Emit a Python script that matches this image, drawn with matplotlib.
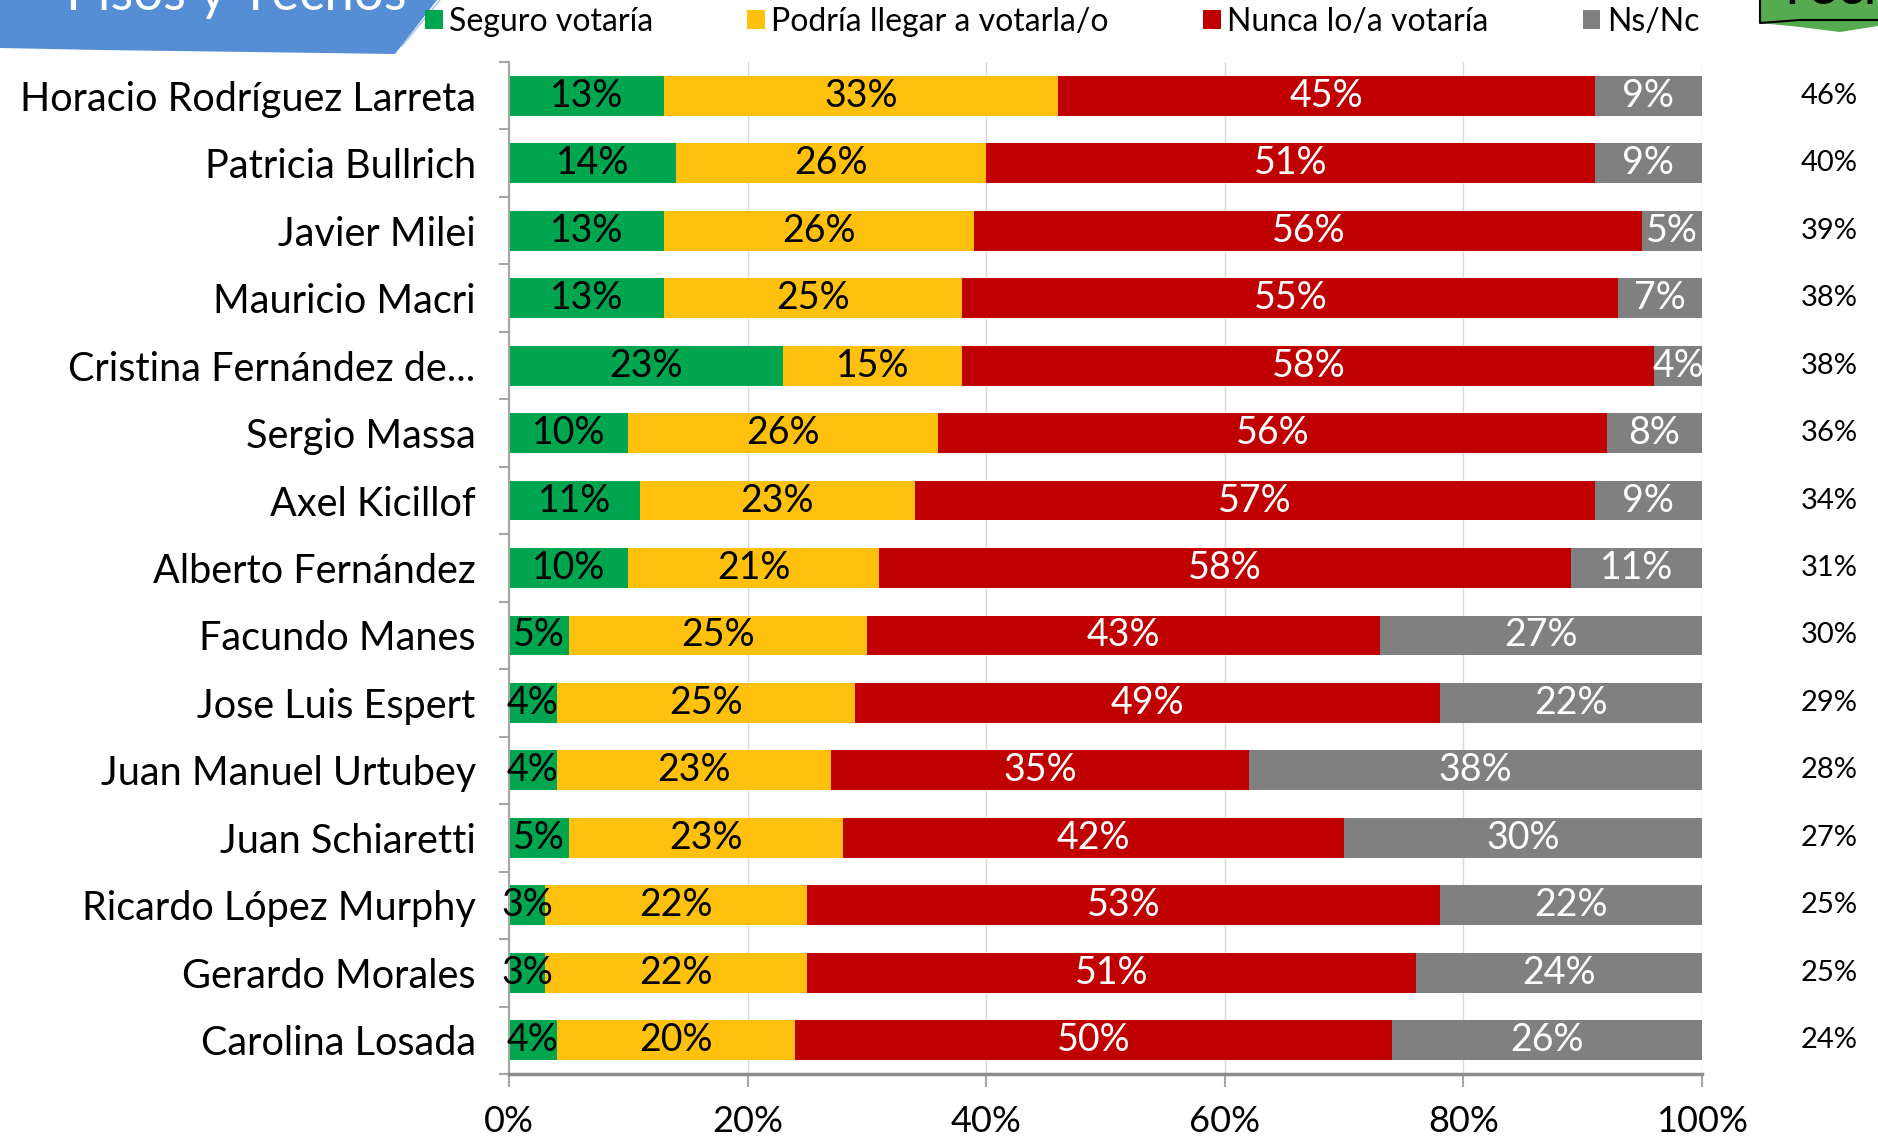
import matplotlib.pyplot as plt
import numpy as np
from matplotlib.patches import Polygon
from matplotlib.transforms import blended_transform_factory

plt.rcParams['font.family'] = ['Lato', 'DejaVu Sans']

candidatos = ['Horacio Rodríguez Larreta', 'Patricia Bullrich', 'Javier Milei',
              'Mauricio Macri', 'Cristina Fernández de...', 'Sergio Massa',
              'Axel Kicillof', 'Alberto Fernández', 'Facundo Manes',
              'Jose Luis Espert', 'Juan Manuel Urtubey', 'Juan Schiaretti',
              'Ricardo López Murphy', 'Gerardo Morales', 'Carolina Losada']
seguro = [13, 14, 13, 13, 23, 10, 11, 10, 5, 4, 4, 5, 3, 3, 4]
podria = [33, 26, 26, 25, 15, 26, 23, 21, 25, 25, 23, 23, 22, 22, 20]
nunca = [45, 51, 56, 55, 58, 56, 57, 58, 43, 49, 35, 42, 53, 51, 50]
nsnc = [9, 9, 5, 7, 4, 8, 9, 11, 27, 22, 38, 30, 22, 24, 26]
techo = [46, 40, 39, 38, 38, 36, 34, 31, 30, 29, 28, 27, 25, 25, 24]

series = [('Seguro votaría', seguro, '#00A54F', 'black'),
          ('Podría llegar a votarla/o', podria, '#FFC10E', 'black'),
          ('Nunca lo/a votaría', nunca, '#C00000', 'white'),
          ('Ns/Nc', nsnc, '#808080', 'white')]

W, H = 1878, 1139
fig = plt.figure(figsize=(W / 100, H / 100), dpi=100)
ax = fig.add_axes([509 / W, 1 - 1074 / H, (1702 - 509) / W, (1074 - 62) / H])

y = np.arange(len(candidatos))
left = np.zeros(len(candidatos))
for name, vals, color, tcolor in series:
    v = np.array(vals) / 100
    bars = ax.barh(y, v, left=left, height=0.59, color=color, label=name, zorder=2)
    ax.bar_label(bars, labels=[f'{x}%' for x in vals], label_type='center',
                 color=tcolor, fontsize=27)
    left += v

ax.set_xlim(0, 1)
ax.set_ylim(len(candidatos) - 0.5, -0.5)
ax.set_yticks(y)
ax.set_yticklabels(candidatos, fontsize=28.5)
ax.set_yticks(np.arange(len(candidatos) + 1) - 0.5, minor=True)
ax.tick_params(axis='y', which='major', length=0, pad=24)
ax.tick_params(axis='y', which='minor', length=7, color='#A6A6A6', width=1.5)
ticks = np.arange(0, 1.01, 0.2)
ax.set_xticks(ticks)
ax.set_xticklabels([f'{int(round(t * 100))}%' for t in ticks], fontsize=26)
ax.tick_params(axis='x', length=9, color='#A6A6A6', width=1.5, pad=13)
ax.grid(axis='x', color='#D9D9D9', lw=1, zorder=0)
ax.set_axisbelow(True)
for s in ['top', 'right']:
    ax.spines[s].set_visible(False)
ax.spines['left'].set_color('#A6A6A6')
ax.spines['left'].set_linewidth(1.5)
ax.spines['bottom'].set_color('#8C8C8C')
ax.spines['bottom'].set_linewidth(2.5)

# techo column
tr = blended_transform_factory(fig.transFigure, ax.transData)
for yi, t in zip(y, techo):
    ax.text(1829 / W, yi, f'{t}%', transform=tr, ha='center', va='center', fontsize=21)

fig.legend(loc='center left', bbox_to_anchor=(425 / W, 1 - 22 / H), ncol=4, frameon=False,
           fontsize=23, handlelength=0.55, handleheight=0.55, handletextpad=0.2,
           columnspacing=2.95, borderaxespad=0, borderpad=0)

# blue title banner
banner = Polygon([(0, 1), (437 / W, 1), (395 / W, 1 - 54 / H), (250 / W, 1 - 52 / H),
                  (100 / W, 1 - 50 / H), (0, 1 - 48 / H)], closed=True,
                 transform=fig.transFigure, facecolor='#558ED5', edgecolor='none')
fig.patches.append(banner)
fig.add_artist(plt.Line2D([402 / W, 440 / W], [1 - 46 / H, 1], transform=fig.transFigure,
                          color='#A9C4EB', lw=1))
fig.text(66 / W, 1 - 10 / H, 'Pisos y Techos', color='white', fontsize=38,
         ha='left', va='baseline')

# green techo tag
tag = Polygon([(1760 / W, 1), (1, 1), (1, 1 - 26 / H), (1840 / W, 1 - 32 / H),
               (1800 / W, 1 - 27 / H), (1760 / W, 1 - 23 / H)], closed=True,
              transform=fig.transFigure, facecolor='#56AA50', edgecolor='none')
fig.patches.append(tag)
fig.add_artist(plt.Line2D([1760 / W, 1760 / W, 1800 / W, 1], [1, 1 - 23 / H, 1 - 20 / H, 1 - 20 / H],
                          transform=fig.transFigure, color='black', lw=1.5))
fig.text(1775 / W, 1 - 4 / H, 'Techo', color='black', fontsize=40, ha='left', va='baseline')

fig.savefig('out.png', dpi=100)
